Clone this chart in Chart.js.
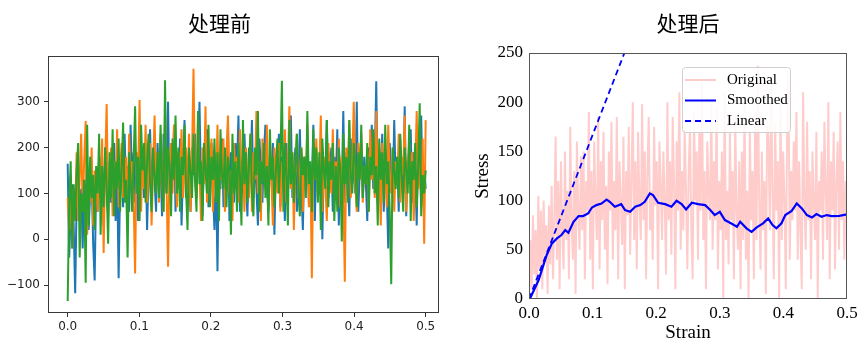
<!DOCTYPE html>
<html>
<head>
<meta charset="utf-8">
<script src="https://cdn.jsdelivr.net/npm/chart.js@4.4.0/dist/chart.umd.min.js"></script>
<style>
  body { margin: 0; background: #fff; }
  #wrap { position: relative; width: 865px; height: 350px; }
  canvas { position: absolute; top: 0; }
  #before { left: 0; }
  #after { left: 450px; }
</style>
</head>
<body>
<div id="wrap">
  <canvas id="before" width="450" height="350"></canvas>
  <canvas id="after" width="415" height="350"></canvas>
</div>
<script>
// ---- left panel: raw signals ----
const blueVals = [
  165, -40, 60, 120, 30, -118, 90, 150, 40, 110, -20, 130, 70, 160, 20, 100, 140, -10, -90, 120,
  60, 180, 90, 140, 30, 200, 110, 50, 170, 80, 130, 210, 40, 150, -85, 120, 190, 70, 230, 100,
  160, 60, 250, 120, 190, 80, 140, 40, 220, 110, 170, 90, 200, 20, 150, 240, 100, 180, 130, 60,
  210, 120, 160, 50, 230, 140, 100, 300, 80, 190, 130, 250, 60, 170, 110, 220, 30, 150, 260, 90,
  180, 120, 60, 200, 140, 230, 90, 170, 300, 110, 50, 190, 130, 240, 70, 160, 210, 100, 20, 150,
  -70, 180, 110, 220, 70, 160, 130, 250, 40, 190, 120, 80, 210, 150, 270, 60, 170, 100, 230, 130,
  50, 200, 140, 260, 90, 170, 110, 30, 220, 150, 80, 190, 250, 120, 60, 170, 140, 210, 10, 160,
  120, 230, 70, 180, 140, 40, 210, 100, 160, 270, 90, 150, 200, 60, 130, 240, 110, 20, 180, 140,
  200, 80, 160, 120, 250, 40, 190, 140, 100, 220, 0, 170, 130, 260, 90, 150, 200, 60, 180, 120,
  240, 30, 160, 110, 280, 80, 190, 140, 50, 220, 120, 170, 100, 300, 60, 150, 210, 90, 180, 130,
  40, 200, 150, 250, 110, 170, 345, 80, 190, 130, 230, 60, 160, 110, -20, 210, 140, 90, 260, 120,
  180, 60, 220, 140, 100, 290, 50, 170, 120, 240, 80, 190, 150, 30, 210, 130, 270, 90, 160, 110
];
const orangeVals = [
  90, 20, 140, -20, 110, 70, 190, 40, 130, 230, 60, 170, 258, 10, 110, 80, 200, 30, 150, 120,
  60, 180, 100, 220, -30, 160, 295, 80, 140, 200, 50, 170, 110, 240, 70, 150, 210, 90, 130, 180,
  40, 230, 120, 170, 90, -75, 190, 140, 304, 60, 180, 110, 250, 80, 160, 210, 30, 150, 270, 120,
  190, 80, 230, 140, 60, 280, 120, -60, 170, 210, 100, 250, 140, 70, 190, 130, 240, 90, 160, 200,
  110, 230, 60, 180, 372, 130, 90, 260, 150, 40, 200, 120, 290, 80, 170, 140, 220, 60, 190, 110,
  250, 90, 160, 130, 220, 60, 180, 270, 100, 150, 40, 210, 130, 180, 80, 240, 120, 170, 60, 200,
  140, 90, 230, 60, 190, 130, 280, 100, 170, 40, 220, 150, 110, 250, 70, 180, 130, 30, 200, 160,
  100, 210, 60, 170, 130, 240, 80, 150, 290, 110, 190, 20, 160, 230, 90, 140, 200, 60, 180, 120,
  250, 70, 160, -85, 190, 130, 220, 90, 150, 270, 60, 180, 120, 40, 210, 150, 100, 240, 80, 170,
  130, 220, 70, 180, 110, -93, 200, 140, 260, 90, 170, 300, 120, 60, 210, 150, 230, 80, 160, 120,
  190, 60, 240, 130, 170, 90, 280, 110, 150, 30, 210, 130, 180, 70, 250, 140, 100, 200, 60, 170,
  120, 230, 80, 180, 140, 270, 60, 160, 210, 100, 190, 40, 150, 280, 110, 170, 70, 220, -10, 260
];
const greenVals = [
  -135, 80, 170, -20, 120, 40, 150, 210, -40, 100, 60, 130, -95, 250, 30, 180, 90, 140, 20, 160,
  100, 230, 10, 160, 70, 200, 120, -10, 190, 90, 240, 50, 170, 110, 220, 60, 150, 255, 80, 130,
  -40, 190, 130, 60, 170, 290, 100, 180, 40, 250, 150, 210, 80, 170, 230, 120, 60, 200, 140, 100,
  190, 90, 250, 130, 60, 347, 100, 200, 160, 50, 220, 130, 270, 100, 200, 60, 180, 140, 250, 110,
  20, 200, 150, 90, 230, 130, 60, 280, 120, 170, 40, 210, 150, 100, 250, 70, 180, 130, 220, 80,
  190, 40, 240, 140, 110, 200, 70, 180, 150, 10, 230, 100, 170, 60, 210, 140, 30, 260, 120, 190,
  80, 160, 230, 100, 50, 200, 140, 280, 60, 170, 120, 210, 90, 160, 30, 240, 130, 180, 70, 150,
  220, 100, 170, 346, 60, 210, 140, 30, 260, 120, 190, 80, 160, 230, 100, 50, 200, 140, 180, 90,
  280, 120, 170, 60, 240, 130, 200, 80, 190, 20, 220, 150, 110, 260, 70, 170, 130, 210, 40, 160,
  60, 200, 150, -5, 230, 120, 180, 80, 260, 140, 100, 210, 170, 70, 190, 130, 250, 90, 160, 120,
  210, 60, 180, 140, 240, 100, 160, 30, 220, 130, 190, 80, 250, 120, 170, 60, -98, 200, 150, 110,
  180, 90, 230, 130, 60, 200, 150, 100, 250, 40, 170, 130, 210, 70, 160, 297, 50, 140, 100, 150
];
const leftXTicks = [0, 0.1, 0.2, 0.3, 0.4, 0.5];
const leftXLabels = ['0.0', '0.1', '0.2', '0.3', '0.4', '0.5'];
const leftYTicks = [-100, 0, 100, 200, 300];
const leftYLabels = ['\u2212100', '0', '100', '200', '300'];

// ---- right panel: stress-strain ----
const originalStress = [
  0, 60, 10, 85, 25, 70, -5, 105, 30, 90, 10, 100, 45, 75, 5, 95, 35, 115, 20, 80,
  165, 40, 120, 10, 140, 70, 30, 150, 60, 110, 20, 175, 80, 40, 130, 5, 160, 90, 50, 145,
  70, 150, 20, 120, 90, 190, 40, 130, 10, 160, 100, 60, 185, 30, 140, 80, 170, 50, 115, 15,
  150, 90, 180, 40, 120, 70, 185, 20, 140, 100, 55, 165, 10, 130, 85, 175, 45, 120, 200, 60,
  140, 30, 170, 100, 60, 198, 80, 150, 20, 130, 185, 70, 110, 40, 175, 95, 140, 10, 160, 120,
  60, 150, 100, 25, 200, 80, 140, 45, 185, 120, 10, 160, 90, 210, 50, 130, 70, 175, 110, 30,
  130, 175, 70, 20, 190, 100, 150, 40, 170, 90, 220, 60, 130, 10, 160, 110, 80, 200, 50, 140,
  80, 195, 30, 120, 70, 150, 0, 210, 60, 110, 35, 170, 80, 130, 20, 185, 90, 50, 140, 10,
  150, 60, 200, 40, 110, 0, 170, 80, 130, 20, 190, 60, 237, 100, 30, 150, 70, 120, 5, 180,
  160, 70, 220, 110, 20, 180, 90, 140, 0, 200, 60, 150, 100, 10, 170, 230, 40, 130, 80, 160,
  90, 190, 40, 140, 70, 10, 210, 100, 50, 180, 80, 130, 20, 150, 100, 60, 170, 0, 120, 90,
  150, 40, 180, 110, 60, 200, 20, 140, 90, 170, 30, 120, 160, 50, 190, 80, 140, 40, 120, 100
];
const smoothStrain = [0, 0.002, 0.015, 0.028, 0.036, 0.044, 0.051, 0.057, 0.062, 0.07, 0.078, 0.085, 0.093, 0.099,
  0.106, 0.114, 0.122, 0.127, 0.135, 0.145, 0.151, 0.159, 0.167, 0.175, 0.182, 0.19, 0.195, 0.203, 0.214,
  0.224, 0.232, 0.24, 0.247, 0.256, 0.266, 0.277, 0.285, 0.292, 0.3, 0.308, 0.316, 0.327, 0.332, 0.342,
  0.35, 0.358, 0.368, 0.376, 0.383, 0.389, 0.397, 0.403, 0.413, 0.421, 0.429, 0.437, 0.445, 0.452,
  0.46, 0.468, 0.476, 0.488, 0.5];
const smoothStress = [0, 1, 19, 45, 56.5, 61.6, 65, 70, 67.3, 78.5, 84.3, 84.3, 87, 93,
  95.4, 97, 101, 98.8, 93.7, 96.4, 90.4, 88.6, 93.7, 95.4, 98.8, 107.3, 105.6, 97.8, 96.4,
  93.7, 99.8, 96.4, 91, 97.8, 96.4, 95.4, 90.4, 85.3, 88.6, 80.2, 77.5, 73.4, 78.5, 71.8,
  68.3, 72.8, 76.9, 81.9, 75.1, 71.8, 76.9, 85.3, 89.6, 97.2, 92.1, 85.3, 82.9, 86.3,
  83.6, 85.3, 84.3, 84.5, 86];
const linearStrain = [0, 0.16];
const linearStress = [0, 266.7];
const rightXTicks = [0, 0.1, 0.2, 0.3, 0.4, 0.5];
const rightXLabels = ['0.0', '0.1', '0.2', '0.3', '0.4', '0.5'];
const rightYTicks = [0, 50, 100, 150, 200, 250];
const rightYLabels = ['0', '50', '100', '150', '200', '250'];

// evenly spaced sample grid 0..0.5 for the sampled series
function grid(n) {
    return Array.from({ length: n }, (_, i) => i * 0.5 / (n - 1));
}
function pts(xs, ys) {
    return ys.map((y, i) => ({ x: xs[i], y: y }));
}
function fixedTicks(values) {
    return (scale) => { scale.ticks = values.map(v => ({ value: v })); };
}

// box around the plot area
const frame = {
    id: 'frame',
    afterDatasetsDraw(chart, args, opts) {
        const a = chart.chartArea;
        const ctx = chart.ctx;
        ctx.save();
        ctx.strokeStyle = opts.color;
        ctx.lineWidth = 1;
        ctx.strokeRect(Math.round(a.left) + 0.5, Math.round(a.top) + 0.5,
            Math.round(a.right - a.left) - 1, Math.round(a.bottom - a.top) - 1);
        ctx.restore();
    }
};

// matplotlib style legend box at a fixed place
const boxLegend = {
    id: 'boxLegend',
    afterDraw(chart, args, opts) {
        if (!opts.display) return;
        const ctx = chart.ctx;
        const { x, y, w, h, rowGap, font } = opts;
        ctx.save();
        ctx.fillStyle = 'rgba(255,255,255,0.85)';
        ctx.strokeStyle = '#d0d0d0';
        ctx.lineWidth = 1;
        ctx.beginPath();
        ctx.roundRect(x + 0.5, y + 0.5, w, h, 3);
        ctx.fill();
        ctx.stroke();
        ctx.font = font;
        ctx.textBaseline = 'middle';
        chart.data.datasets.forEach((ds, i) => {
            const cy = y + 13 + i * rowGap;
            ctx.strokeStyle = ds.borderColor;
            ctx.lineWidth = Math.min(ds.borderWidth, 2);
            ctx.setLineDash(ds.borderDash || []);
            ctx.beginPath();
            ctx.moveTo(x + 3, cy);
            ctx.lineTo(x + 34, cy);
            ctx.stroke();
            ctx.setLineDash([]);
            ctx.fillStyle = '#000';
            ctx.fillText(ds.label, x + 45, cy);
        });
        ctx.restore();
    }
};

const sansTick = { family: 'DejaVu Sans', size: 12 };
const serifTick = { family: 'Liberation Serif', size: 17 };
const titleFont = { family: 'Noto Sans CJK SC', size: 21, weight: 'normal' };

new Chart(document.getElementById('before'), {
    type: 'line',
    data: {
        datasets: [
            { label: 'a', data: pts(grid(blueVals.length), blueVals), borderColor: '#1f77b4', borderWidth: 2, order: 3 },
            { label: 'b', data: pts(grid(orangeVals.length), orangeVals), borderColor: '#ff7f0e', borderWidth: 2, order: 2 },
            { label: 'c', data: pts(grid(greenVals.length), greenVals), borderColor: '#2ca02c', borderWidth: 2, order: 1 }
        ]
    },
    options: {
        responsive: false,
        animation: false,
        devicePixelRatio: 1,
        elements: { point: { radius: 0 }, line: { tension: 0 } },
        layout: { padding: { left: 0, right: 11, top: 0, bottom: 0 } },
        plugins: {
            legend: { display: false },
            tooltip: { enabled: false },
            title: { display: true, text: '处理前', font: titleFont, color: '#000', padding: { top: 10, bottom: 20.8 } },
            frame: { color: '#3a3a3a' },
            boxLegend: { display: false }
        },
        scales: {
            x: {
                type: 'linear', min: -0.0275, max: 0.5186,
                afterBuildTicks: fixedTicks(leftXTicks),
                afterFit: (s) => { s.height = 37; },
                grid: { drawOnChartArea: false, tickLength: 4, tickColor: '#333' },
                border: { display: false },
                ticks: { font: sansTick, color: '#222', padding: 3, maxRotation: 0,
                    callback: (v) => leftXLabels[leftXTicks.indexOf(v)] }
            },
            y: {
                type: 'linear', min: -161, max: 400,
                afterBuildTicks: fixedTicks(leftYTicks),
                afterFit: (s) => { s.width = 48; },
                grid: { drawOnChartArea: false, tickLength: 4, tickColor: '#333' },
                border: { display: false },
                ticks: { font: sansTick, color: '#222', padding: 4,
                    callback: (v) => leftYLabels[leftYTicks.indexOf(v)] }
            }
        }
    },
    plugins: [frame, boxLegend]
});

new Chart(document.getElementById('after'), {
    type: 'line',
    data: {
        datasets: [
            { label: 'Original', data: pts(grid(originalStress.length), originalStress), borderColor: 'rgba(255,0,0,0.2)', borderWidth: 2, order: 3 },
            { label: 'Smoothed', data: pts(smoothStrain, smoothStress), borderColor: '#0000ff', borderWidth: 2.2, order: 2 },
            { label: 'Linear', data: pts(linearStrain, linearStress), borderColor: '#0000ff', borderWidth: 1.8, borderDash: [6, 4], order: 1 }
        ]
    },
    options: {
        responsive: false,
        animation: false,
        devicePixelRatio: 1,
        elements: { point: { radius: 0 }, line: { tension: 0 } },
        layout: { padding: { left: 0, right: 18, top: 0, bottom: 0 } },
        plugins: {
            legend: { display: false },
            tooltip: { enabled: false },
            title: { display: true, fullSize: false, text: '处理后', font: titleFont, color: '#000', padding: { top: 10, bottom: 17.8 } },
            frame: { color: '#555' },
            boxLegend: { display: true, x: 232, y: 67, w: 108, h: 65, rowGap: 20.5, font: '15px "Liberation Serif"' }
        },
        scales: {
            x: {
                type: 'linear', min: 0, max: 0.5,
                afterBuildTicks: fixedTicks(rightXTicks),
                afterFit: (s) => { s.height = 51; },
                grid: { drawOnChartArea: false, drawTicks: false },
                border: { display: false },
                ticks: { font: serifTick, color: '#000', padding: 4, maxRotation: 0,
                    callback: (v) => rightXLabels[rightXTicks.indexOf(v)] },
                title: { display: true, text: 'Strain', font: { family: 'Liberation Serif', size: 19 }, color: '#000', padding: { top: 0, bottom: 5.6 } }
            },
            y: {
                type: 'linear', min: 0, max: 250,
                afterBuildTicks: fixedTicks(rightYTicks),
                afterFit: (s) => { s.width = 79; },
                grid: { drawOnChartArea: false, drawTicks: false },
                border: { display: false },
                ticks: { font: serifTick, color: '#000', padding: 6,
                    callback: (v) => rightYLabels[rightYTicks.indexOf(v)] },
                title: { display: true, text: 'Stress', font: { family: 'Liberation Serif', size: 19 }, color: '#000', padding: { top: 21.6, bottom: 0 } }
            }
        }
    },
    plugins: [frame, boxLegend]
});
</script>
</body>
</html>
